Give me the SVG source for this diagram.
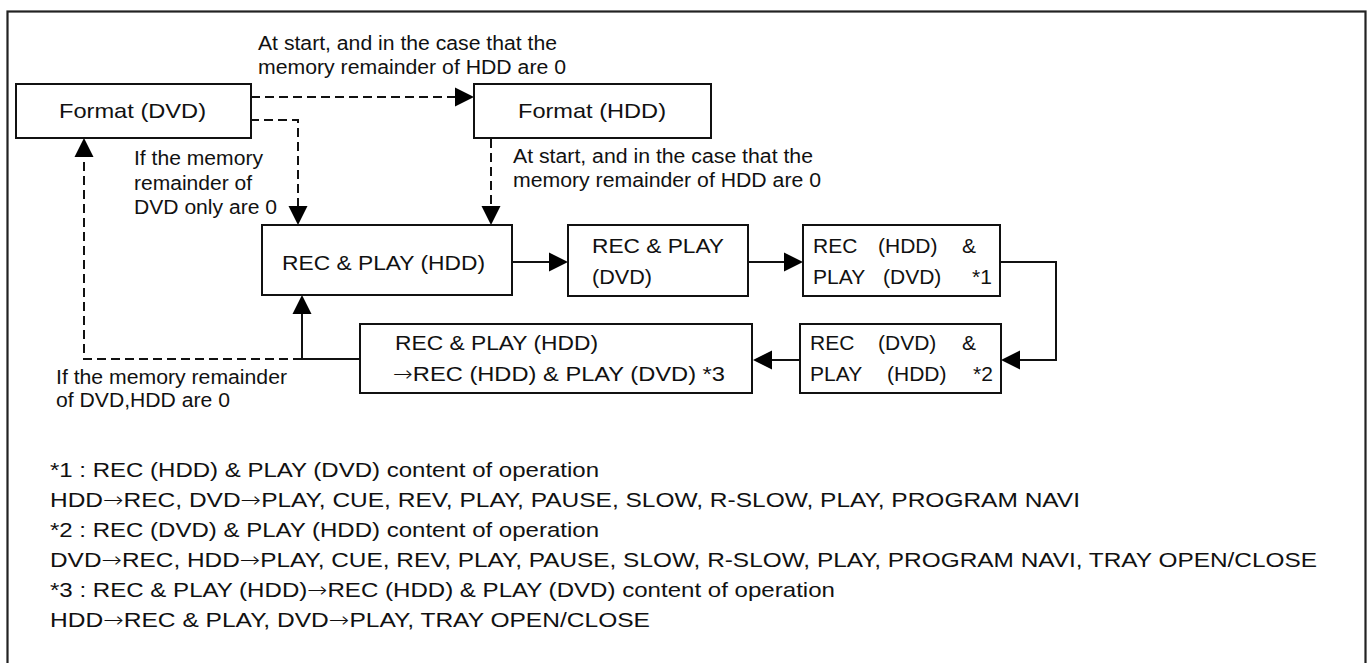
<svg xmlns="http://www.w3.org/2000/svg" width="1367" height="663" viewBox="0 0 1367 663">
<style>
text{font-family:"Liberation Sans",Arial,Helvetica,sans-serif;fill:#111}
.n{font-size:21px}
.l{font-size:20px}
.f{font-size:21px}
.ar{font-family:"DejaVu Sans",sans-serif;font-weight:200}
.box{fill:#fff;stroke:#111;stroke-width:2}
.s{fill:none;stroke:#111;stroke-width:2}
.d{fill:none;stroke:#111;stroke-width:2;stroke-dasharray:9 5}
.ah{fill:#000;stroke:none}
</style>
<rect x="0" y="0" width="1367" height="663" fill="#fff"/>
<rect x="7.5" y="11.5" width="1358" height="700" fill="none" stroke="#222" stroke-width="2.2"/>

<g id="connectors">
  <path class="d" d="M251,97 H456"/>
  <polygon class="ah" points="455,87.5 474,97 455,106.5"/>
  <path class="d" d="M250,120 H298 V207"/>
  <polygon class="ah" points="288.5,206 298,225 307.5,206"/>
  <path class="d" d="M491,139 V207"/>
  <polygon class="ah" points="481.5,206 491,225 500.5,206"/>
  <path class="s" d="M512,262 H550"/>
  <polygon class="ah" points="549,252.5 568,262 549,271.5"/>
  <path class="s" d="M748,262 H785"/>
  <polygon class="ah" points="784,252.5 803,262 784,271.5"/>
  <path class="s" d="M1000,262 H1056 V360 H1019"/>
  <polygon class="ah" points="1020,350.5 1001,360 1020,369.5"/>
  <path class="s" d="M800,360 H771"/>
  <polygon class="ah" points="772,350.5 753,360 772,369.5"/>
  <path class="s" d="M360,359 H302 V313"/>
  <polygon class="ah" points="292.5,314 302,295 311.5,314"/>
  <path class="d" d="M302,359 H84 V156"/>
  <polygon class="ah" points="74.5,157 84,138 93.5,157"/>
</g>

<g id="labels">
  <text class="l"><tspan x="258" y="50" textLength="299" lengthAdjust="spacingAndGlyphs">At start, and in the case that the</tspan><tspan x="258" y="74" textLength="308" lengthAdjust="spacingAndGlyphs">memory remainder of HDD are 0</tspan></text>
  <text class="l"><tspan x="134" y="165" textLength="129" lengthAdjust="spacingAndGlyphs">If the memory</tspan><tspan x="134" y="190" textLength="118" lengthAdjust="spacingAndGlyphs">remainder of</tspan><tspan x="134" y="214" textLength="143" lengthAdjust="spacingAndGlyphs">DVD only are 0</tspan></text>
  <text class="l"><tspan x="513" y="163" textLength="300" lengthAdjust="spacingAndGlyphs">At start, and in the case that the</tspan><tspan x="513" y="187" textLength="308" lengthAdjust="spacingAndGlyphs">memory remainder of HDD are 0</tspan></text>
  <text class="l"><tspan x="56" y="384" textLength="231" lengthAdjust="spacingAndGlyphs">If the memory remainder</tspan><tspan x="56" y="407" textLength="174" lengthAdjust="spacingAndGlyphs">of DVD,HDD are 0</tspan></text>
</g>

<g id="format-dvd">
  <rect class="box" x="16" y="84" width="235" height="54"/>
  <text class="n" x="59" y="118" textLength="147" lengthAdjust="spacingAndGlyphs">Format (DVD)</text>
</g>
<g id="format-hdd">
  <rect class="box" x="474" y="84" width="237" height="54"/>
  <text class="n" x="518" y="118" textLength="148" lengthAdjust="spacingAndGlyphs">Format (HDD)</text>
</g>
<g id="recplay-hdd">
  <rect class="box" x="262" y="225" width="250" height="70"/>
  <text class="n" x="282" y="270" textLength="203" lengthAdjust="spacingAndGlyphs">REC &amp; PLAY (HDD)</text>
</g>
<g id="recplay-dvd">
  <rect class="box" x="568" y="225" width="180" height="71"/>
  <text class="n"><tspan x="592" y="253" textLength="132" lengthAdjust="spacingAndGlyphs">REC &amp; PLAY</tspan><tspan x="592" y="284" textLength="60" lengthAdjust="spacingAndGlyphs">(DVD)</tspan></text>
</g>
<g id="rec-hdd-play-dvd">
  <rect class="box" x="803" y="225" width="197" height="71"/>
  <text class="n"><tspan x="813" y="253">REC</tspan><tspan x="878" y="253">(HDD)</tspan><tspan x="962" y="253">&amp;</tspan><tspan x="813" y="284">PLAY</tspan><tspan x="883" y="284">(DVD)</tspan><tspan x="972" y="284">*1</tspan></text>
</g>
<g id="rec-dvd-play-hdd">
  <rect class="box" x="800" y="324" width="201" height="69"/>
  <text class="n"><tspan x="810" y="350">REC</tspan><tspan x="878" y="350">(DVD)</tspan><tspan x="962" y="350">&amp;</tspan><tspan x="810" y="381">PLAY</tspan><tspan x="887" y="381">(HDD)</tspan><tspan x="973" y="381">*2</tspan></text>
</g>
<g id="recplay-to-rec-play">
  <rect class="box" x="360" y="324" width="392" height="69"/>
  <text class="n"><tspan x="395" y="350" textLength="203" lengthAdjust="spacingAndGlyphs">REC &amp; PLAY (HDD)</tspan><tspan x="393" y="381" textLength="332" lengthAdjust="spacingAndGlyphs"><tspan class="ar">→</tspan>REC (HDD) &amp; PLAY (DVD) *3</tspan></text>
</g>

<g id="notes">
  <text class="f"><tspan x="50" y="477" textLength="549" lengthAdjust="spacingAndGlyphs">*1 : REC (HDD) &amp; PLAY (DVD) content of operation</tspan><tspan x="50" y="507" textLength="1030" lengthAdjust="spacingAndGlyphs">HDD<tspan class="ar">→</tspan>REC, DVD<tspan class="ar">→</tspan>PLAY, CUE, REV, PLAY, PAUSE, SLOW, R-SLOW, PLAY, PROGRAM NAVI</tspan><tspan x="50" y="537" textLength="549" lengthAdjust="spacingAndGlyphs">*2 : REC (DVD) &amp; PLAY (HDD) content of operation</tspan><tspan x="50" y="567" textLength="1267" lengthAdjust="spacingAndGlyphs">DVD<tspan class="ar">→</tspan>REC, HDD<tspan class="ar">→</tspan>PLAY, CUE, REV, PLAY, PAUSE, SLOW, R-SLOW, PLAY, PROGRAM NAVI, TRAY OPEN/CLOSE</tspan><tspan x="50" y="597" textLength="785" lengthAdjust="spacingAndGlyphs">*3 : REC &amp; PLAY (HDD)<tspan class="ar">→</tspan>REC (HDD) &amp; PLAY (DVD) content of operation</tspan><tspan x="50" y="627" textLength="600" lengthAdjust="spacingAndGlyphs">HDD<tspan class="ar">→</tspan>REC &amp; PLAY, DVD<tspan class="ar">→</tspan>PLAY, TRAY OPEN/CLOSE</tspan></text>
</g>
</svg>
